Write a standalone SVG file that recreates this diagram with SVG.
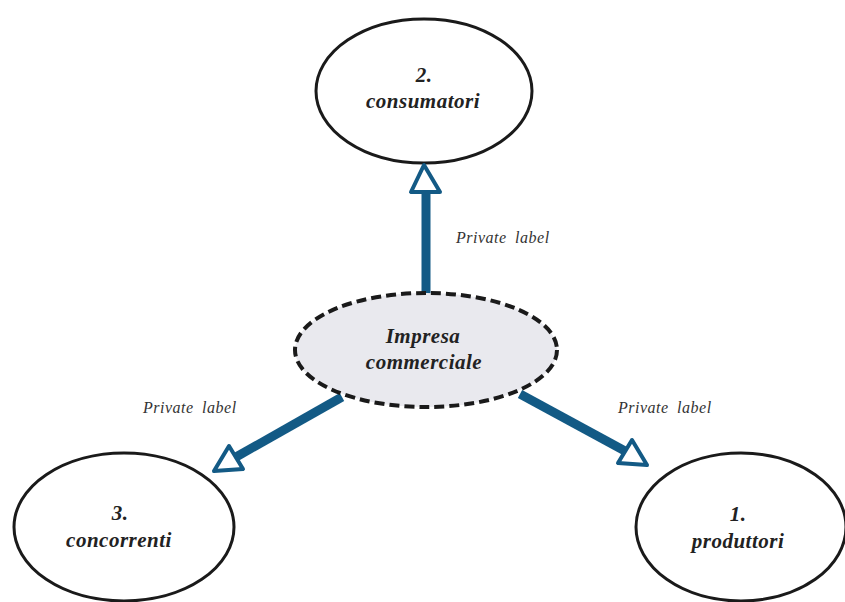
<svg xmlns="http://www.w3.org/2000/svg" width="845" height="602" viewBox="0 0 845 602">
<style>
.node{fill:#fff;stroke:#1a1a1a;stroke-width:3}
.center{fill:#e9e9ee;stroke:#1a1a1a;stroke-width:4;stroke-dasharray:10 5}
.t{font-family:"Liberation Serif","Times New Roman",serif;font-weight:bold;font-style:italic;font-size:21px;fill:#222;text-anchor:middle;letter-spacing:0.5px}
.lbl{font-family:"Liberation Serif","Times New Roman",serif;font-style:italic;font-size:16px;fill:#333;letter-spacing:0.5px;word-spacing:4px}
.shaft{stroke:#135a85;stroke-width:9;fill:none}
.head{fill:#fff;stroke:#135a85;stroke-width:4;stroke-linejoin:round}
</style>
<rect width="845" height="602" fill="#fff"/>
<g id="node-consumatori">
<ellipse class="node" cx="424" cy="91" rx="108" ry="72"/>
<text class="t" x="424" y="82">2.</text>
<text class="t" x="423" y="108">consumatori</text>
</g>
<g id="node-concorrenti">
<ellipse class="node" cx="124" cy="527" rx="110" ry="74"/>
<text class="t" x="120" y="520">3.</text>
<text class="t" x="119" y="547">concorrenti</text>
</g>
<g id="node-produttori">
<ellipse class="node" cx="741" cy="527" rx="105" ry="74"/>
<text class="t" x="738" y="521">1.</text>
<text class="t" x="738" y="548">produttori</text>
</g>
<g id="connectors">
<line class="shaft" x1="426" y1="296" x2="426" y2="192"/>
<polygon class="head" points="424,165 411,192 440,192"/>
<line class="shaft" x1="342" y1="397" x2="236" y2="457"/>
<polygon class="head" points="214,471 229,446 243,469"/>
<line class="shaft" x1="520" y1="394" x2="625" y2="451"/>
<polygon class="head" points="632,440 618,463 647,465"/>
</g>
<g id="node-impresa">
<ellipse class="center" cx="426" cy="350" rx="131" ry="57"/>
<text class="t" x="423" y="343">Impresa</text>
<text class="t" x="424" y="369">commerciale</text>
</g>
<g id="labels">
<text class="lbl" x="456" y="243">Private label</text>
<text class="lbl" x="143" y="413">Private label</text>
<text class="lbl" x="618" y="413">Private label</text>
</g>
</svg>
